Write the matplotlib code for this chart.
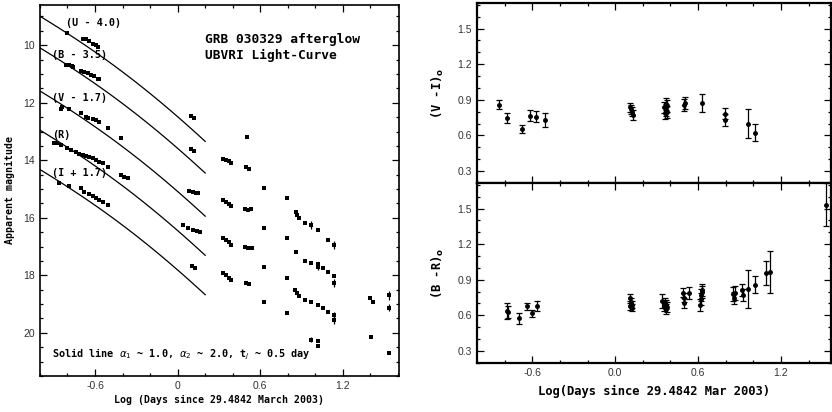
import numpy as np
import matplotlib
matplotlib.use("Agg")
import matplotlib.pyplot as plt
from matplotlib.ticker import MultipleLocator, FixedLocator, FuncFormatter

# ---- light curve (left panel): log(t) and magnitude per band, already offset ----
U_X = [-0.80, -0.69, -0.666, -0.642, -0.618, -0.593, -0.58, 0.10, 0.12, 0.505]
U_MAG = [9.59, 9.78, 9.80, 9.86, 9.94, 10.00, 10.06, 12.46, 12.52, 13.18]
U_ERR = [0] * 10

B_X = [-0.81, -0.79, -0.77, -0.76, -0.70, -0.68, -0.654, -0.63, -0.605, -0.58, -0.57,
       0.10, 0.12, 0.33, 0.35, 0.37, 0.39, 0.50, 0.52, 0.626, 0.797, 0.86, 0.87, 0.88,
       0.924, 0.968, 1.017, 1.094, 1.134]
B_MAG = [10.67, 10.70, 10.72, 10.75, 10.89, 10.93, 10.98, 11.04, 11.08, 11.16, 11.19,
         13.62, 13.68, 13.94, 13.99, 14.04, 14.10, 14.25, 14.32, 14.95, 15.30, 15.80, 15.90, 16.00,
         16.19, 16.25, 16.42, 16.77, 16.94]
B_ERR = [0] * 25 + [0.15, 0, 0, 0.15]

V_X = [-0.85, -0.837, -0.788, -0.70, -0.666, -0.65, -0.618, -0.593, -0.57, -0.508, -0.41,
       0.08, 0.11, 0.13, 0.15, 0.33, 0.35, 0.37, 0.39, 0.49, 0.51, 0.535, 0.626, 0.797,
       0.862, 0.924, 0.968, 1.017, 1.017, 1.058, 1.094, 1.134, 1.134, 1.394, 1.419, 1.536]
V_MAG = [12.20, 12.14, 12.22, 12.37, 12.49, 12.52, 12.57, 12.60, 12.66, 12.87, 13.24,
         15.07, 15.10, 15.12, 15.14, 15.38, 15.45, 15.52, 15.60, 15.68, 15.72, 15.70, 16.37, 16.71,
         17.18, 17.50, 17.58, 17.60, 17.70, 17.73, 17.89, 18.04, 18.27, 18.80, 18.93, 18.70]
V_ERR = [0] * 28 + [0.1, 0, 0, 0, 0.15, 0, 0, 0.15]

R_X = [-0.898, -0.874, -0.849, -0.80, -0.776, -0.739, -0.715, -0.69, -0.666, -0.642, -0.618,
       -0.593, -0.569, -0.544, -0.508, -0.41, -0.386, -0.361,
       0.036, 0.077, 0.11, 0.14, 0.163, 0.33, 0.35, 0.37, 0.39, 0.49, 0.51, 0.54,
       0.626, 0.797, 0.85, 0.865, 0.88, 0.924, 0.968, 1.017, 1.058, 1.094, 1.134, 1.134,
       1.402, 1.536]
R_MAG = [13.41, 13.41, 13.47, 13.59, 13.65, 13.70, 13.78, 13.82, 13.85, 13.90, 13.93,
         13.99, 14.05, 14.11, 14.22, 14.51, 14.57, 14.63,
         16.25, 16.36, 16.42, 16.47, 16.50, 16.71, 16.78, 16.85, 16.94, 17.00, 17.05, 17.05,
         17.70, 18.08, 18.50, 18.60, 18.72, 18.85, 18.91, 19.03, 19.12, 19.26, 19.38, 19.55,
         20.13, 19.12]
R_ERR = [0] * 40 + [0.12, 0.15, 0, 0.12]

I_X = [-0.861, -0.788, -0.70, -0.678, -0.642, -0.618, -0.593, -0.569, -0.544, -0.508,
       0.105, 0.125, 0.33, 0.35, 0.37, 0.39, 0.50, 0.52, 0.626, 0.797, 0.968, 1.017, 1.017, 1.536]
I_MAG = [14.80, 14.90, 14.98, 15.11, 15.18, 15.23, 15.30, 15.38, 15.44, 15.56,
         17.68, 17.74, 17.93, 18.00, 18.08, 18.16, 18.25, 18.30, 18.93, 19.32, 20.24, 20.30, 20.45, 20.70]
I_ERR = [0] * 20 + [0.08, 0, 0, 0]

BAND_LABELS = ["(U - 4.0)", "(B - 3.5)", "(V - 1.7)", "(R)", "(I + 1.7)"]
LABEL_MAG = [9.24, 10.35, 11.84, 13.12, 14.45]

# broken power law from the figure text: alpha1 ~ 1.0, alpha2 ~ 2.0, tj ~ 0.5 day
ALPHA1 = 1.0
ALPHA2 = 2.0
T_JET = 0.5
MODEL_ZERO = [10.54, 11.64, 13.14, 14.50, 15.87]   # U, B, V, R, I normalisation

# ---- colours (right panels) ----
VI_X = [-0.839, -0.781, -0.672, -0.617, -0.574, -0.506, 0.107, 0.113, 0.12, 0.127,
        0.351, 0.36, 0.366, 0.371, 0.372, 0.378, 0.499, 0.505, 0.625, 0.796, 0.796, 0.962, 1.011]
VI = [0.858, 0.747, 0.655, 0.766, 0.758, 0.732, 0.836, 0.82, 0.80, 0.774,
      0.836, 0.79, 0.864, 0.814, 0.85, 0.794, 0.855, 0.87, 0.872, 0.785, 0.73, 0.70, 0.624]
VI_ERR = [0.039, 0.039, 0.037, 0.047, 0.047, 0.06, 0.04, 0.04, 0.04, 0.04,
          0.05, 0.05, 0.05, 0.05, 0.05, 0.05, 0.05, 0.05, 0.075, 0.05, 0.05, 0.12, 0.07]

BR_X = [-0.786, -0.772, -0.694, -0.641, -0.60, -0.569, 0.107, 0.114, 0.12, 0.107, 0.124,
        0.342, 0.35, 0.359, 0.366, 0.371, 0.378, 0.492, 0.497, 0.499, 0.535,
        0.617, 0.619, 0.624, 0.63, 0.632, 0.854, 0.86, 0.87, 0.919, 0.922,
        0.962, 1.011, 1.088, 1.124, 1.523]
BR = [0.635, 0.626, 0.573, 0.677, 0.615, 0.677, 0.748, 0.714, 0.69, 0.677, 0.663,
      0.72, 0.68, 0.705, 0.654, 0.69, 0.67, 0.79, 0.705, 0.748, 0.785,
      0.683, 0.734, 0.768, 0.81, 0.796, 0.78, 0.748, 0.785, 0.81, 0.77,
      0.818, 0.858, 0.954, 0.965, 1.533]
BR_ERR = [0.07, 0.05, 0.045, 0.03, 0.03, 0.04, 0.03, 0.03, 0.03, 0.03, 0.03,
          0.06, 0.04, 0.04, 0.04, 0.04, 0.04, 0.04, 0.04, 0.04, 0.05,
          0.05, 0.05, 0.05, 0.05, 0.05, 0.06, 0.05, 0.06, 0.05, 0.05,
          0.16, 0.07, 0.10, 0.18, 0.18]

LABEL_FONT = "DejaVu Sans Mono"
TICK_FONT = "Liberation Sans"
TICK_COLOR = "#333333"

plt.rcParams["axes.unicode_minus"] = False


def style_axes(ax, lw=1.3):
    for sp in ax.spines.values():
        sp.set_linewidth(lw)
    ax.tick_params(which="both", direction="in", top=True, right=True,
                   labelsize=7.5, labelcolor=TICK_COLOR, width=0.9)
    ax.tick_params(which="major", length=5)
    ax.tick_params(which="minor", length=2.5)
    for lab in ax.get_xticklabels() + ax.get_yticklabels():
        lab.set_family(TICK_FONT)


def main():
    fig = plt.figure(figsize=(8.32, 4.12), dpi=100)

    # ----- left: UBVRI light curve -----
    ax = fig.add_axes([0.048, 0.0874, 0.4315, 0.9005])
    bands = [(U_X, U_MAG, U_ERR), (B_X, B_MAG, B_ERR), (V_X, V_MAG, V_ERR),
             (R_X, R_MAG, R_ERR), (I_X, I_MAG, I_ERR)]
    for x, m, e in bands:
        ax.errorbar(x, m, yerr=e, fmt="s", color="black", ms=3, mew=0,
                    elinewidth=0.9, capsize=1.5)

    lt = np.linspace(-1.0, 0.2, 120)
    tau = 10 ** lt / T_JET
    for m0 in MODEL_ZERO:
        mag = m0 + 2.5 * np.log10(tau ** ALPHA1 + tau ** ALPHA2)
        ax.plot(lt, mag, color="black", lw=0.9)

    for lab, y in zip(BAND_LABELS, LABEL_MAG):
        x0 = -0.81 if lab.startswith("(U") else -0.91
        ax.text(x0, y, lab, family=LABEL_FONT, weight="bold", fontsize=7.3, va="center")

    ax.text(0.2, 9.8, "GRB 030329 afterglow", family=LABEL_FONT, weight="bold",
            fontsize=9.3, va="center")
    ax.text(0.2, 10.37, "UBVRI Light-Curve", family=LABEL_FONT, weight="bold",
            fontsize=9.3, va="center")
    ax.text(-0.91, 20.76,
            r"Solid line $\alpha_{1}$ ~ 1.0, $\alpha_{2}$ ~ 2.0, t$_{j}$ ~ 0.5 day",
            family=LABEL_FONT, weight="bold", fontsize=7.3, va="center")

    ax.set_xlim(-1.0, 1.607)
    ax.set_ylim(21.5, 8.6)
    ax.xaxis.set_major_locator(FixedLocator([-0.6, 0.0, 0.6, 1.2]))
    ax.xaxis.set_minor_locator(MultipleLocator(0.2))
    ax.xaxis.set_major_formatter(FuncFormatter(lambda v, p: "0" if abs(v) < 1e-9 else f"{v:.1f}"))
    ax.yaxis.set_major_locator(MultipleLocator(2))
    ax.yaxis.set_minor_locator(MultipleLocator(0.5))
    style_axes(ax, lw=1.2)
    ax.set_xlabel("Log (Days since 29.4842 March 2003)", family=LABEL_FONT,
                  weight="bold", fontsize=7.1, labelpad=3)
    ax.set_ylabel("Apparent magnitude", family=LABEL_FONT, weight="bold",
                  fontsize=7.1, labelpad=6)

    # ----- right: colour evolution -----
    ax1 = fig.add_axes([0.5733, 0.5558, 0.4255, 0.4369])
    ax2 = fig.add_axes([0.5733, 0.1197, 0.4255, 0.4361], sharex=ax1)

    ax1.errorbar(VI_X, VI, yerr=VI_ERR, fmt="o", color="black", ms=2.5,
                 elinewidth=0.9, capsize=2, capthick=0.9)
    ax2.errorbar(BR_X, BR, yerr=BR_ERR, fmt="o", color="black", ms=2.5,
                 elinewidth=0.9, capsize=2, capthick=0.9)

    for a in (ax1, ax2):
        a.set_xlim(-1.0, 1.562)
        a.set_ylim(0.2, 1.715)
        a.xaxis.set_major_locator(FixedLocator([-0.6, 0.0, 0.6, 1.2]))
        a.xaxis.set_minor_locator(MultipleLocator(0.2))
        a.xaxis.set_major_formatter(FuncFormatter(lambda v, p: f"{v:.1f}"))
        a.yaxis.set_major_locator(FixedLocator([0.3, 0.6, 0.9, 1.2, 1.5]))
        a.yaxis.set_major_formatter(FuncFormatter(lambda v, p: f"{v:.1f}"))
        a.yaxis.set_minor_locator(MultipleLocator(0.1))
        style_axes(a, lw=1.6)
    ax1.tick_params(labelbottom=False)

    ax1.set_ylabel(r"(V -I)$_{\mathbf{o}}$", family=LABEL_FONT, weight="bold",
                   fontsize=8.7, labelpad=8)
    ax2.set_ylabel(r"(B -R)$_{\mathbf{o}}$", family=LABEL_FONT, weight="bold",
                   fontsize=8.7, labelpad=8)
    ax2.set_xlabel("Log(Days since 29.4842 Mar 2003)", family=LABEL_FONT,
                   weight="bold", fontsize=8.7, labelpad=5)

    fig.savefig("out.png", dpi=100)
    plt.close(fig)


if __name__ == "__main__":
    main()
